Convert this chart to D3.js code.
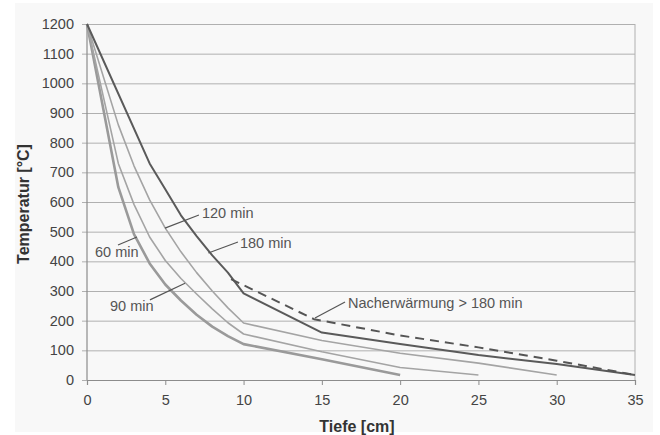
<!DOCTYPE html>
<head>
  <meta charset="utf-8">
  <script src="https://d3js.org/d3.v7.min.js"></script>
  <style>
    body { margin:0; background:#fff; font-family:"Liberation Sans", Arial, sans-serif; }
  </style>
</head>
<body>
<script>
  // depth [cm] and temperature [°C] for each fire duration
  var depth60 = [0, 2, 3, 4, 5, 6, 7, 8, 9, 10, 15, 20];
  var temp60 = [1200, 650, 492, 393, 322, 268, 220, 180, 148, 121, 70, 17];
  var depth90 = [0, 2, 3, 4, 5, 6, 7, 8, 9, 10, 15, 20, 25];
  var temp90 = [1200, 730, 592, 482, 403, 342, 290, 240, 193, 155, 95, 42, 17];
  var depth120 = [0, 2, 3, 4, 5, 6, 7, 8, 9, 10, 15, 20, 25, 30];
  var temp120 = [1200, 860, 722, 607, 512, 432, 362, 300, 243, 192, 133, 90, 57, 17];
  var depth180 = [0, 4, 5, 6, 7, 8, 9, 10, 15, 20, 25, 30, 35];
  var temp180 = [1200, 730, 643, 555, 485, 420, 362, 292, 160, 121, 84, 54, 17];
  var depthNach = [9.2, 14.5, 20, 25, 30, 35];
  var tempNach = [340, 205, 150, 110, 65, 17];

  var xTicks = [0, 5, 10, 15, 20, 25, 30, 35];
  var yTicks = [0, 100, 200, 300, 400, 500, 600, 700, 800, 900, 1000, 1100, 1200];

  // labels: text position, leader start, leader end (all in data units)
  var labels = [
    {text: "60 min", x: 0.51, y: 431, from: [1.98, 455], to: [3.19, 482]},
    {text: "90 min", x: 1.47, y: 249, from: [4.02, 270], to: [6.26, 326]},
    {text: "120 min", x: 7.34, y: 563, from: [7.15, 556], to: [4.98, 512]},
    {text: "180 min", x: 9.77, y: 462, from: [9.64, 465], to: [7.75, 428]},
    {text: "Nacherwärmung > 180 min", x: 16.67, y: 260, from: [16.48, 263], to: [14.56, 209]}
  ];

  var width = 660, height = 435;
  var margin = {left: 87, right: 25, top: 24, bottom: 55};

  var svg = d3.select("body").append("svg")
    .attr("width", width)
    .attr("height", height);

  // light grey chart background
  svg.append("rect")
    .attr("x", 15).attr("y", 3)
    .attr("width", 638).attr("height", 429)
    .attr("fill", "#f8f8f8");

  var x = d3.scaleLinear().domain([0, 35]).range([margin.left, width - margin.right]);
  var y = d3.scaleLinear().domain([0, 1200]).range([height - margin.bottom, margin.top]);

  // gridlines + y axis
  var yAxis = svg.append("g")
    .attr("transform", "translate(" + margin.left + ",0)")
    .call(d3.axisLeft(y).tickValues(yTicks).tickFormat(d3.format("d"))
      .tickSize(-(x(35) - x(0))).tickPadding(13));
  yAxis.select(".domain").remove();
  yAxis.selectAll(".tick line")
    .attr("x1", -5)
    .attr("stroke", "#b0b0b0");
  yAxis.selectAll("text")
    .attr("fill", "#444")
    .style("font-size", "14.5px")
    .style("font-family", "Liberation Sans, Arial, sans-serif");

  // frame: left, right, bottom
  svg.append("line")
    .attr("x1", x(0)).attr("x2", x(0)).attr("y1", y(1200)).attr("y2", y(0))
    .attr("stroke", "#8c8c8c").attr("stroke-width", 1.2);
  svg.append("line")
    .attr("x1", x(35)).attr("x2", x(35)).attr("y1", y(1200)).attr("y2", y(0))
    .attr("stroke", "#b0b0b0");

  var xAxis = svg.append("g")
    .attr("transform", "translate(0," + y(0) + ")")
    .call(d3.axisBottom(x).tickValues(xTicks).tickSize(5).tickPadding(10));
  xAxis.select(".domain").attr("stroke", "#8c8c8c").attr("stroke-width", 1.2);
  xAxis.selectAll(".tick line").attr("stroke", "#8c8c8c");
  xAxis.selectAll("text")
    .attr("fill", "#444")
    .style("font-size", "14.5px")
    .style("font-family", "Liberation Sans, Arial, sans-serif");

  // axis titles
  svg.append("text")
    .attr("x", (x(0) + x(35)) / 2 - 4)
    .attr("y", 432)
    .attr("text-anchor", "middle")
    .attr("fill", "#333")
    .style("font-size", "16px")
    .style("font-weight", "bold")
    .text("Tiefe [cm]");

  svg.append("text")
    .attr("transform", "translate(29," + (y(600) + 2) + ") rotate(-90)")
    .attr("text-anchor", "middle")
    .attr("fill", "#333")
    .style("font-size", "16px")
    .style("font-weight", "bold")
    .text("Temperatur [°C]");

  var line = d3.line()
    .x(function(d) { return x(d[0]); })
    .y(function(d) { return y(d[1]); });

  var series = [
    {xs: depth60, ys: temp60, color: "#9a9a9a", w: 2.6, dash: null},
    {xs: depth90, ys: temp90, color: "#a4a4a4", w: 1.6, dash: null},
    {xs: depth120, ys: temp120, color: "#a4a4a4", w: 1.6, dash: null},
    {xs: depth180, ys: temp180, color: "#5a5a5a", w: 2, dash: null},
    {xs: depthNach, ys: tempNach, color: "#555", w: 2, dash: "9,6"}
  ];

  svg.selectAll("path.curve")
    .data(series)
    .enter()
    .append("path")
    .attr("class", "curve")
    .attr("d", function(s) { return line(d3.zip(s.xs, s.ys)); })
    .attr("fill", "none")
    .attr("stroke", function(s) { return s.color; })
    .attr("stroke-width", function(s) { return s.w; })
    .attr("stroke-dasharray", function(s) { return s.dash; })
    .attr("stroke-linejoin", "round");

  // labels with leader lines
  svg.selectAll("line.leader")
    .data(labels)
    .enter()
    .append("line")
    .attr("class", "leader")
    .attr("x1", function(d) { return x(d.from[0]); })
    .attr("y1", function(d) { return y(d.from[1]); })
    .attr("x2", function(d) { return x(d.to[0]); })
    .attr("y2", function(d) { return y(d.to[1]); })
    .attr("stroke", "#555")
    .attr("stroke-width", 1.2);

  svg.selectAll("text.lab")
    .data(labels)
    .enter()
    .append("text")
    .attr("class", "lab")
    .attr("x", function(d) { return x(d.x); })
    .attr("y", function(d) { return y(d.y); })
    .attr("dy", "0.35em")
    .attr("fill", "#555")
    .style("font-size", "14.5px")
    .text(function(d) { return d.text; });
</script>
</body>
